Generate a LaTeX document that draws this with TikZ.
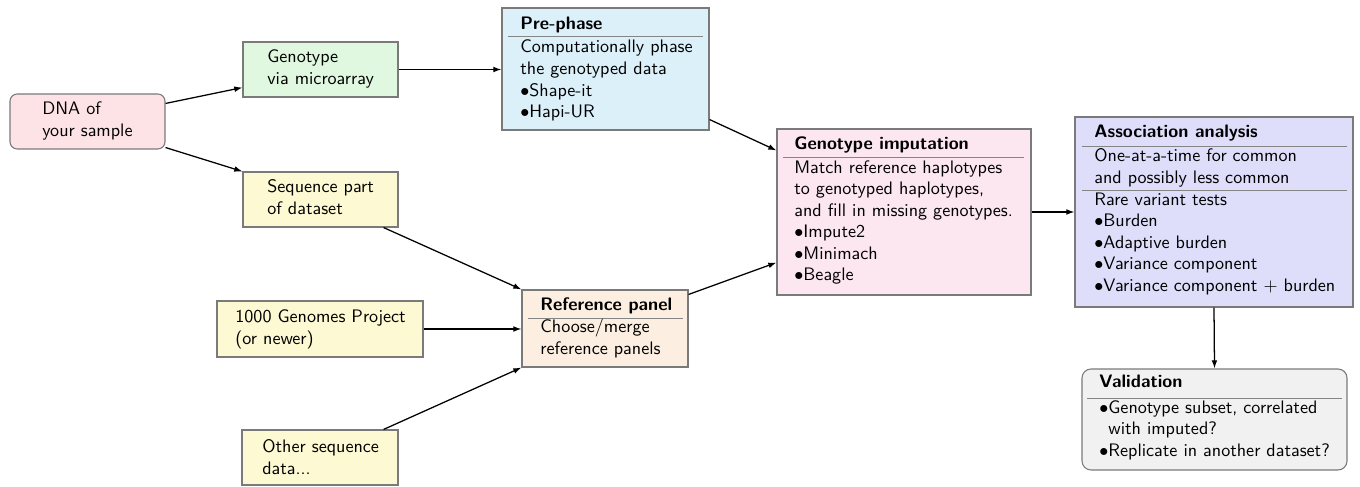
\documentclass[tikz,border=0pt]{standalone}
\usetikzlibrary{arrows.meta,fit,calc}
\definecolor{bordc}{HTML}{7A7A7A}
\definecolor{sepc}{HTML}{858585}
\definecolor{dnac}{HTML}{FDE3E5}
\definecolor{genoc}{HTML}{E0F8E0}
\definecolor{seqc}{HTML}{FCF9D3}
\definecolor{prec}{HTML}{DCF0FA}
\definecolor{refc}{HTML}{FCEEE0}
\definecolor{impc}{HTML}{FCE6F0}
\definecolor{assc}{HTML}{DEDEFA}
\definecolor{valc}{HTML}{F1F1F1}
\newcommand{\lsk}{21.54}
\tikzset{
  box/.style={draw=bordc, line width=0.6pt, inner sep=0pt},
  txt/.style={anchor=base west, align=left, inner sep=0pt, font=\sffamily\fontsize{10}{11.9}\selectfont},
  ttl/.style={txt, font=\sffamily\bfseries\fontsize{10}{11.9}\selectfont},
  sepline/.style={draw=sepc, line width=0.5pt},
  arr/.style={-{Latex[length=4.5pt,width=3.2pt]}, line width=0.7pt, black},
}
\begin{document}
\begin{tikzpicture}[x=0.5525pt,y=-0.5525pt]
\useasboundingbox (0,0) rectangle (1360,487);
% boxes
\node[box, fill=dnac, rounded corners=4pt, fit={(10,94) (165,149)}] (dna) {};
\node[box, fill=genoc, fit={(243,42) (398,97)}] (geno) {};
\node[box, fill=seqc, fit={(243,172) (398,227)}] (seq) {};
\node[box, fill=seqc, fit={(217,301) (423,357)}] (kg) {};
\node[box, fill=seqc, fit={(242,430) (398,485)}] (other) {};
\node[box, fill=prec, fit={(502,8) (709,130)}] (pre) {};
\node[box, fill=refc, fit={(522,290) (688,367)}] (ref) {};
\node[box, fill=impc, fit={(777,129) (1031,295)}] (imp) {};
\node[box, fill=assc, fit={(1075,117) (1353,307)}] (assoc) {};
\node[box, fill=valc, rounded corners=5pt, fit={(1082,369) (1347,470)}] (val) {};
% separators
\draw[sepline] (508,36) -- (703,36);
\draw[sepline] (528,318) -- (683,318);
\draw[sepline] (783,157) -- (1024,157);
\draw[sepline] (1082,146) -- (1347,146);
\draw[sepline] (1082,190) -- (1347,190);
\draw[sepline] (1087,398) -- (1342,398);
% texts (anchor = baseline of last line)
\node[txt] (dnat) at (42,{115+1*\lsk}) {DNA of\\your sample};
\node[txt] (genot) at (267,{63+1*\lsk}) {Genotype\\via microarray};
\node[txt] (seqt) at (267,{193+1*\lsk}) {Sequence part\\of dataset};
\node[txt] (kgt) at (235,{323+1*\lsk}) {1000 Genomes Project\\(or newer)};
\node[txt] (othert) at (262,{453+1*\lsk}) {Other sequence\\data...};
\node[ttl] (pret) at (520,30) {Pre-phase};
\node[txt] (preb) at (520,{53+3*\lsk}) {Computationally phase\\the genotyped data\\$\bullet$Shape-it\\$\bullet$Hapi-UR};
\node[ttl] (reft) at (540,311) {Reference panel};
\node[txt] (refb) at (540,{333+1*\lsk}) {Choose/merge\\reference panels};
\node[ttl] (impt) at (794,150) {Genotype imputation};
\node[txt] (impb) at (794,{173+5*\lsk}) {Match reference haplotypes\\to genotyped haplotypes,\\and fill in missing genotypes.\\$\bullet$Impute2\\$\bullet$Minimach\\$\bullet$Beagle};
\node[ttl] (asst) at (1094,138) {Association analysis};
\node[txt] (assb) at (1094,{162+1*\lsk}) {One-at-a-time for common\\and possibly less common};
\node[txt] (assc2) at (1094,{205+4*\lsk}) {Rare variant tests\\$\bullet$Burden\\$\bullet$Adaptive burden\\$\bullet$Variance component\\$\bullet$Variance component $+$ burden};
\node[ttl] (valt) at (1099,388) {Validation};
\node[txt] (valb) at (1099,{413+2*\lsk}) {$\bullet$Genotype subset, correlated\\\phantom{$\bullet$}with imputed?\\$\bullet$Replicate in another dataset?};
% connectors
\draw[arr] ($(dna.north east)+(0,10)$) -- ($(geno.south west)+(0,-10)$);
\draw[arr] ($(dna.south east)+(0,-2)$) -- (seq.north west);
\draw[arr] (geno.east) -- (pre.west |- geno.east);
\draw[arr] ($(pre.south east)+(0,-11)$) -- ($(imp.north west)+(0,22)$);
\draw[arr] ($(seq.south east)+(-15,0)$) -- (ref.north west);
\draw[arr] (kg.east) -- (ref.west |- kg.east);
\draw[arr] ($(other.north east)+(-15,0)$) -- (ref.south west);
\draw[arr] ($(ref.north east)+(0,5)$) -- ($(imp.south west)+(0,-33)$);
\draw[arr] (imp.east) -- (assoc.west |- imp.east);
\draw[arr] (assoc.south) -- (val.north);
\end{tikzpicture}
\end{document}
